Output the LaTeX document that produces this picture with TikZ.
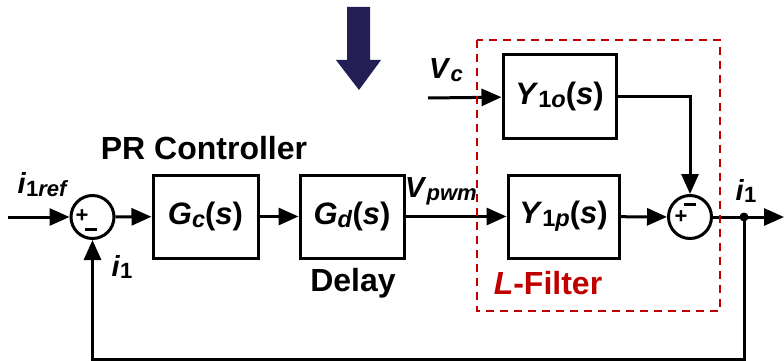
\documentclass[tikz,border=0pt]{standalone}
\usepackage{fontspec}
\setmainfont{Liberation Sans}
\usepackage{xcolor}
\usepackage{graphicx}
\usepackage{tikz}
\usetikzlibrary{arrows.meta, positioning, shapes.geometric}

\definecolor{filtred}{HTML}{C00000}
\definecolor{navyarrow}{HTML}{231F54}
\newcommand{\blksym}[2]{\textit{#1}\raisebox{-0.1em}{\scalebox{0.76}{#2}}}

\begin{document}
\begin{tikzpicture}[x=1pt, y=-1pt, line width=3pt,
    font=\bfseries\fontsize{29}{32}\selectfont,
    block/.style={draw, rectangle, minimum height=83pt, inner sep=0pt,
        font=\bfseries\fontsize{31}{34}\selectfont},
    sumnode/.style={draw, circle, minimum size=43pt, inner sep=0pt},
    sig/.style={-{Triangle[length=20pt, width=17pt]}},
    signfont/.style={font=\bfseries\fontsize{22}{22}\selectfont, inner sep=0pt},
    caption/.style={font=\bfseries\fontsize{32}{34}\selectfont}]
    \useasboundingbox (0,0) rectangle (784,361);
    % Blocks
    \node[sumnode] (sum1) at (92.5,217) {};
    \node[block, minimum width=105pt] (gc) at (205.5,216.5) {\blksym{G}{\textit{c}}(\textit{s})};
    \node[block, minimum width=104pt] (gd) at (352,216.5) {\blksym{G}{\textit{d}}(\textit{s})};
    \node[block, minimum width=111pt] (y1p) at (563.5,216.5) {\blksym{Y}{1\textit{p}}(\textit{s})};
    \node[block, minimum width=113pt] (y1o) at (559.5,96.5) {\blksym{Y}{1\textit{o}}(\textit{s})};
    \node[sumnode] (sum2) at (690,217) {};
    % Signs
    \node[signfont] at ([shift={(-10.5,-1)}]sum1.center) {+};
    \node[signfont] at ([shift={(-1.5,12)}]sum1.center) {\rule{12pt}{3pt}};
    \node[signfont] at ([shift={(0,-13)}]sum2.center) {\rule{12pt}{3pt}};
    \node[signfont] at ([shift={(-9,0.5)}]sum2.center) {+};
    % Signal ends
    \coordinate (in) at (8,217);
    \coordinate (vc) at (428,98);
    \coordinate (tap) at (744,217);
    \coordinate (out) at (784,217);
    % Forward path
    \draw[sig] (in) -- (sum1);
    \draw[sig] (sum1) -- (gc);
    \draw[sig] (gc) -- (gd);
    \draw[sig] (gd) -- (y1p);
    \draw[sig] (y1p) -- (sum2);
    \draw[sig] (vc) -- (y1o);
    \draw[sig] (y1o.east) -| (sum2.north);
    \draw[sig] (sum2) -- (out);
    % Feedback
    \fill (tap) circle (4.5pt);
    \draw[sig] (tap) -- (744,359) -| (sum1.south);
    % L-filter frame
    \draw[filtred, line width=2.5pt, dash pattern=on 8pt off 6pt] (477,40) rectangle (720,311);
    % Labels
    \node (lref) at (43,185) {\blksym{i}{1\textit{ref}}};
    \node (lfb) at (122,267) {\blksym{i}{1}};
    \node (lout) at (746,191) {\blksym{i}{1}};
    \node (lvc) at (446,70) {\blksym{V}{\textit{c}}};
    \node (lpwm) at (441,191) {\blksym{V}{\textit{pwm}}};
    \node[caption] (lpr) at (204,148) {PR Controller};
    \node[caption] (ldel) at (353,283) {Delay};
    \node[caption, text=filtred] (lfil) at (548,283) {\textit{L}-Filter};
    % Big arrow
    \fill[navyarrow] (347,7) -- (370,7) -- (370,60) -- (381,60) -- (359,90)
        -- (336,60) -- (347,60) -- cycle;
\end{tikzpicture}
\end{document}
